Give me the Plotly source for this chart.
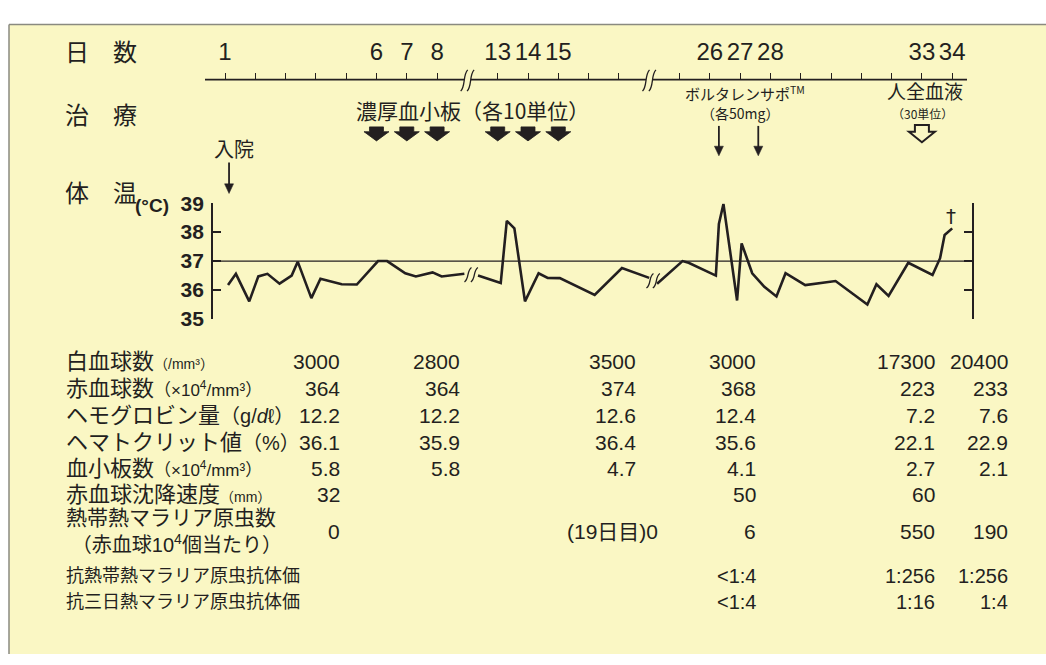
import plotly.graph_objects as go

W, H = 1046, 665
BG = "#FAF7C4"
INK = "#231F20"
JP = "Noto Sans CJK JP"
NUM = "Liberation Sans, Arial, Noto Sans CJK JP"

# ---------------- data ----------------
label_days = [1, 6, 7, 8, 13, 14, 15, 26, 27, 28, 33, 34]
minor_days = [2, 3, 4, 5, 16, 17, 25, 29, 30, 31, 32]
gap_days = [(9.0, 12.0), (18.0, 24.0)]          # days cut out of the time axis

temp_day = [1.1, 1.36, 1.8, 2.1, 2.4, 2.8, 3.2, 3.4, 3.85, 4.15,
            4.85, 5.35, 6.05, 6.35, 6.95, 7.3, 7.85, 8.15, 8.9,
            12.35, 13.1, 13.3, 13.55, 13.9, 14.35, 14.65, 15.05, 16.2, 17.1, 18.0,
            24.26, 25.1, 25.3, 26.2, 26.3, 26.45, 26.9, 27.05, 27.4, 27.8,
            28.2, 28.5, 29.15, 30.15, 31.2, 31.5, 31.9, 32.55, 33.35, 33.6, 33.75, 34.0]
temp_c = [36.17, 36.56, 35.61, 36.47, 36.56, 36.22, 36.5, 36.98, 35.72, 36.39,
          36.2, 36.19, 37.0, 37.0, 36.58, 36.47, 36.61, 36.47, 36.56,
          36.5, 36.24, 38.39, 38.13, 35.61, 36.58, 36.42, 36.41, 35.83, 36.76, 36.42,
          36.22, 37.0, 36.94, 36.5, 38.28, 38.97, 35.64, 37.61, 36.58, 36.11,
          35.78, 36.58, 36.17, 36.31, 35.5, 36.2, 35.8, 36.94, 36.52, 37.1, 37.9, 38.13]
temp_ticks = [35, 36, 37, 38, 39]
normal_temp = 37

admit_day = 1.15
platelet_days = [6, 7, 8, 13, 14, 15]
voltaren_days = [26.3, 27.6]
blood_day = 33
death_day = 34

lab_names = ["白血球数", "赤血球数", "ヘモグロビン量", "ヘマトクリット値", "血小板数",
             "赤血球沈降速度", "熱帯熱マラリア原虫数", "抗熱帯熱マラリア原虫抗体価",
             "抗三日熱マラリア原虫抗体価"]
lab_units = ["（/mm³）", "（×10<sup>4</sup>/mm³）", "（g/<i>d</i>ℓ）", "（%）", "（×10<sup>4</sup>/mm³）",
             "（mm）", "（赤血球10<sup>4</sup>個当たり）", "", ""]
wbc = ["3000", "2800", "3500", "3000", "17300", "20400"]
rbc = ["364", "364", "374", "368", "223", "233"]
hgb = ["12.2", "12.2", "12.6", "12.4", "7.2", "7.6"]
hct = ["36.1", "35.9", "36.4", "35.6", "22.1", "22.9"]
plts = ["5.8", "5.8", "4.7", "4.1", "2.7", "2.1"]
esr = ["32", "", "", "50", "60", ""]
parasites = ["0", "", "(19日目)0", "6", "550", "190"]
ab_pf = ["", "", "", "<1:4", "1:256", "1:256"]
ab_pm = ["", "", "", "<1:4", "1:16", "1:4"]
lab_rows = [wbc, rbc, hgb, hct, plts, esr, parasites, ab_pf, ab_pm]

# ---------------- layout geometry (pixels) ----------------
X0, DX = 225.0, 30.3            # pixel of axis position 0, pixels per day
AX_L, AX_R = 205.0, 967.0       # time axis extent
AX_Y = 70.0                     # time axis line
T_TOP, T_BOT = 198.0, 318.0     # 39 / 35 degC
T_LX, T_RX = 212.0, 973.0       # temperature brackets
col_right = [342, 462, 638, 758, 937, 1010]
cell_override = {(6, 2): 660}
row_y = [362, 390, 418, 446, 473, 500, 538, 584, 611]
LABEL_X = 64


def day_pos(d):
    p = d - 1.0
    for a, b in gap_days:
        if d >= b:
            p -= (b - a)
    return p


def pos_px(p):
    return X0 + DX * p


def temp_py(t):
    return T_BOT - (t - 35) * (T_BOT - T_TOP) / 4.0


def px(x):
    return x / W


def py(y):
    return 1 - y / H


def poly(pts, close=True):
    s = "M " + " L ".join(f"{px(x):.5f},{py(y):.5f}" for x, y in pts)
    return s + (" Z" if close else "")


shapes = []
ann = []

# panel
shapes.append(dict(type="rect", xref="paper", yref="paper", x0=px(9), x1=1.0, y0=0, y1=py(13),
                   fillcolor=BG, line=dict(width=0), layer="below"))
shapes.append(dict(type="line", xref="paper", yref="paper", x0=px(9), x1=1.0, y0=py(13), y1=py(13),
                   line=dict(color="#8a8a80", width=1.5), layer="below"))
shapes.append(dict(type="line", xref="paper", yref="paper", x0=px(9), x1=px(9), y0=py(13), y1=0,
                   line=dict(color="#8a8a80", width=1.5), layer="below"))


def cut_mark(cx, cy, h):
    out = []
    for dx in (-3.2, 3.2):
        x = cx + dx
        out.append(dict(type="path", xref="paper", yref="paper",
                        path=(f"M {px(x - 3.5):.5f},{py(cy + h / 2):.5f} "
                              f"C {px(x + 1.5):.5f},{py(cy + h / 4):.5f} "
                              f"{px(x - 1.5):.5f},{py(cy - h / 4):.5f} "
                              f"{px(x + 3.5):.5f},{py(cy - h / 2):.5f}"),
                        line=dict(color=INK, width=1.3)))
    return out


# time axis line with cuts
cuts_px = [pos_px(day_pos(a)) for a, b in gap_days]
edges = [AX_L]
for c in cuts_px:
    edges += [c - 3.2, c + 3.2]
edges.append(AX_R)
for i in range(0, len(edges), 2):
    shapes.append(dict(type="line", xref="paper", yref="paper", x0=px(edges[i]), x1=px(edges[i + 1]),
                       y0=py(AX_Y), y1=py(AX_Y), line=dict(color=INK, width=1.8)))
for c in cuts_px:
    shapes += cut_mark(c, AX_Y + 1, 22)

# normal temperature line
shapes.append(dict(type="line", xref="paper", yref="y", x0=px(T_LX), x1=px(T_RX),
                   y0=normal_temp, y1=normal_temp, line=dict(color=INK, width=1.3)))

# temperature curve with cuts
tx, ty = [], []
for i, (d, t) in enumerate(zip(temp_day, temp_c)):
    if i > 0:
        for a, b in gap_days:
            if temp_day[i - 1] <= a and d >= b:
                tx.append(None)
                ty.append(None)
                x1, x2 = pos_px(day_pos(temp_day[i - 1])), pos_px(day_pos(d))
                yy = temp_py((temp_c[i - 1] + t) / 2)
                shapes.extend(cut_mark((x1 + x2) / 2, yy, 15))
    tx.append(day_pos(d))
    ty.append(t)

# block arrows (platelets)
for d in platelet_days:
    c = pos_px(day_pos(d))
    shapes.append(dict(type="path", xref="paper", yref="paper",
                       path=poly([(c - 7, 119), (c + 7, 119), (c + 7, 124), (c + 12.5, 124), (c, 133.5),
                                  (c - 12.5, 124), (c - 7, 124)]),
                       fillcolor=INK, line=dict(color=INK, width=0.8)))
# hollow arrow (whole blood)
c = pos_px(day_pos(blood_day))
shapes.append(dict(type="path", xref="paper", yref="paper",
                   path=poly([(c - 7, 117), (c + 7, 117), (c + 7, 124), (c + 13, 124), (c, 135),
                              (c - 13, 124), (c - 7, 124)]),
                   fillcolor=BG, line=dict(color=INK, width=2)))


def thin_arrow(c, y0, y1):
    shapes.append(dict(type="line", xref="paper", yref="paper", x0=px(c), x1=px(c), y0=py(y0), y1=py(y1 - 8),
                       line=dict(color=INK, width=1.8)))
    shapes.append(dict(type="path", xref="paper", yref="paper",
                       path=poly([(c - 4.5, y1 - 10), (c + 4.5, y1 - 10), (c, y1)]),
                       fillcolor=INK, line=dict(color=INK, width=0.5)))


for d in voltaren_days:
    thin_arrow(pos_px(day_pos(d)), 118, 149)
thin_arrow(pos_px(day_pos(admit_day)) - 0.5, 156, 188)


def text(x, y, s, size, family=JP, anchor="left", weight="normal"):
    ann.append(dict(xref="paper", yref="paper", x=px(x), y=py(y), text=s, showarrow=False,
                    xanchor=anchor, yanchor="middle", align="left",
                    font=dict(family=family, size=size, color=INK, weight=weight)))


# left headings
text(63, 40, "日　数", 24)
text(63, 105, "治　療", 24)
text(63, 186, "体　温", 24)

# treatments
text(472, 102, "濃厚血小板（各10単位）", 21, anchor="center")
text(745, 84, "ボルタレンサポ<sup>TM</sup>", 15, anchor="center")
text(740, 105, "（各50mg）", 14, anchor="center")
text(pos_px(day_pos(blood_day)) + 3, 81, "人全血液", 19, anchor="center")
text(pos_px(day_pos(blood_day)) + 1, 105, "（30単位）", 12, anchor="center")
text(234, 141, "入院", 20, anchor="center")

# temperature decorations
text(152, 200, "(°C)", 19, family=NUM, anchor="center", weight="bold")
ann.append(dict(xref="x", yref="paper", x=day_pos(death_day) - 0.03, y=py(211), text="†", showarrow=False,
                xanchor="center", yanchor="middle", font=dict(family="DejaVu Sans", size=20, color=INK)))

# laboratory table
label_size = [22, 22, 22, 22, 22, 22, 21, 18, 18]
unit_size = [14, 17, 20, 20, 17, 14, 20, 18, 18]
for r, (name, unit) in enumerate(zip(lab_names, lab_units)):
    if r == 6:
        s = f"{name}<br>\u00a0<span style='font-size:{unit_size[r]}px'>{unit}</span>"
        text(LABEL_X, row_y[r], s, label_size[r], family=NUM)
    else:
        s = name
        if unit:
            s += f"<span style='font-size:{unit_size[r]}px'>{unit}</span>"
        text(LABEL_X, row_y[r], s, label_size[r], family=NUM)
    for cidx, v in enumerate(lab_rows[r]):
        if v:
            xr = cell_override.get((r, cidx), col_right[cidx])
            text(xr, row_y[r], v, 21 if r < 7 else 20, family=NUM, anchor="right")

# ---------------- figure ----------------
fig = go.Figure()
fig.add_trace(go.Scatter(x=tx, y=ty, mode="lines", line=dict(color=INK, width=2.6),
                         connectgaps=False, showlegend=False, hoverinfo="skip"))
fig.add_trace(go.Scatter(x=[None], y=[None], xaxis="x", yaxis="y2", showlegend=False, hoverinfo="skip"))

xr0 = (AX_L - X0) / DX
xr1 = (AX_R - X0) / DX
fig.update_layout(
    width=W, height=H, margin=dict(l=0, r=0, t=0, b=0),
    paper_bgcolor="white", plot_bgcolor="rgba(0,0,0,0)",
    showlegend=False,
    xaxis=dict(domain=[px(AX_L), px(AX_R)], range=[xr0, xr1], anchor="free", position=py(AX_Y),
               side="top", showline=False, showgrid=False, zeroline=False,
               tickmode="array", tickvals=[day_pos(d) for d in label_days],
               ticktext=[str(d) for d in label_days],
               ticks="outside", ticklen=7, tickwidth=1.3, tickcolor=INK, ticklabelstandoff=3,
               minor=dict(tickmode="array", tickvals=[day_pos(d) for d in minor_days],
                          ticks="outside", ticklen=7, tickwidth=1.3, tickcolor=INK, showgrid=False),
               tickfont=dict(family=NUM, size=24, color=INK), fixedrange=True),
    yaxis=dict(domain=[py(T_BOT), py(T_TOP)], range=[35, 39], anchor="free", position=px(T_LX),
               showline=True, linecolor=INK, linewidth=1.8, showgrid=False, zeroline=False,
               tickmode="array", tickvals=temp_ticks, ticks="inside", ticklen=8, tickwidth=1.5,
               tickcolor=INK, ticklabelstandoff=3,
               tickfont=dict(family=NUM, size=21, color=INK, weight="bold"), fixedrange=True),
    yaxis2=dict(overlaying="y", side="right", range=[35, 39], anchor="free", position=px(T_RX),
                showline=True, linecolor=INK, linewidth=1.8, showgrid=False, zeroline=False,
                tickmode="array", tickvals=temp_ticks, ticks="inside", ticklen=8, tickwidth=1.5,
                tickcolor=INK, showticklabels=False, fixedrange=True),
    shapes=shapes, annotations=ann,
)

fig.write_html("out.html", config={"displayModeBar": False},
               post_script="document.body.style.margin='0';document.body.style.overflow='hidden';")
